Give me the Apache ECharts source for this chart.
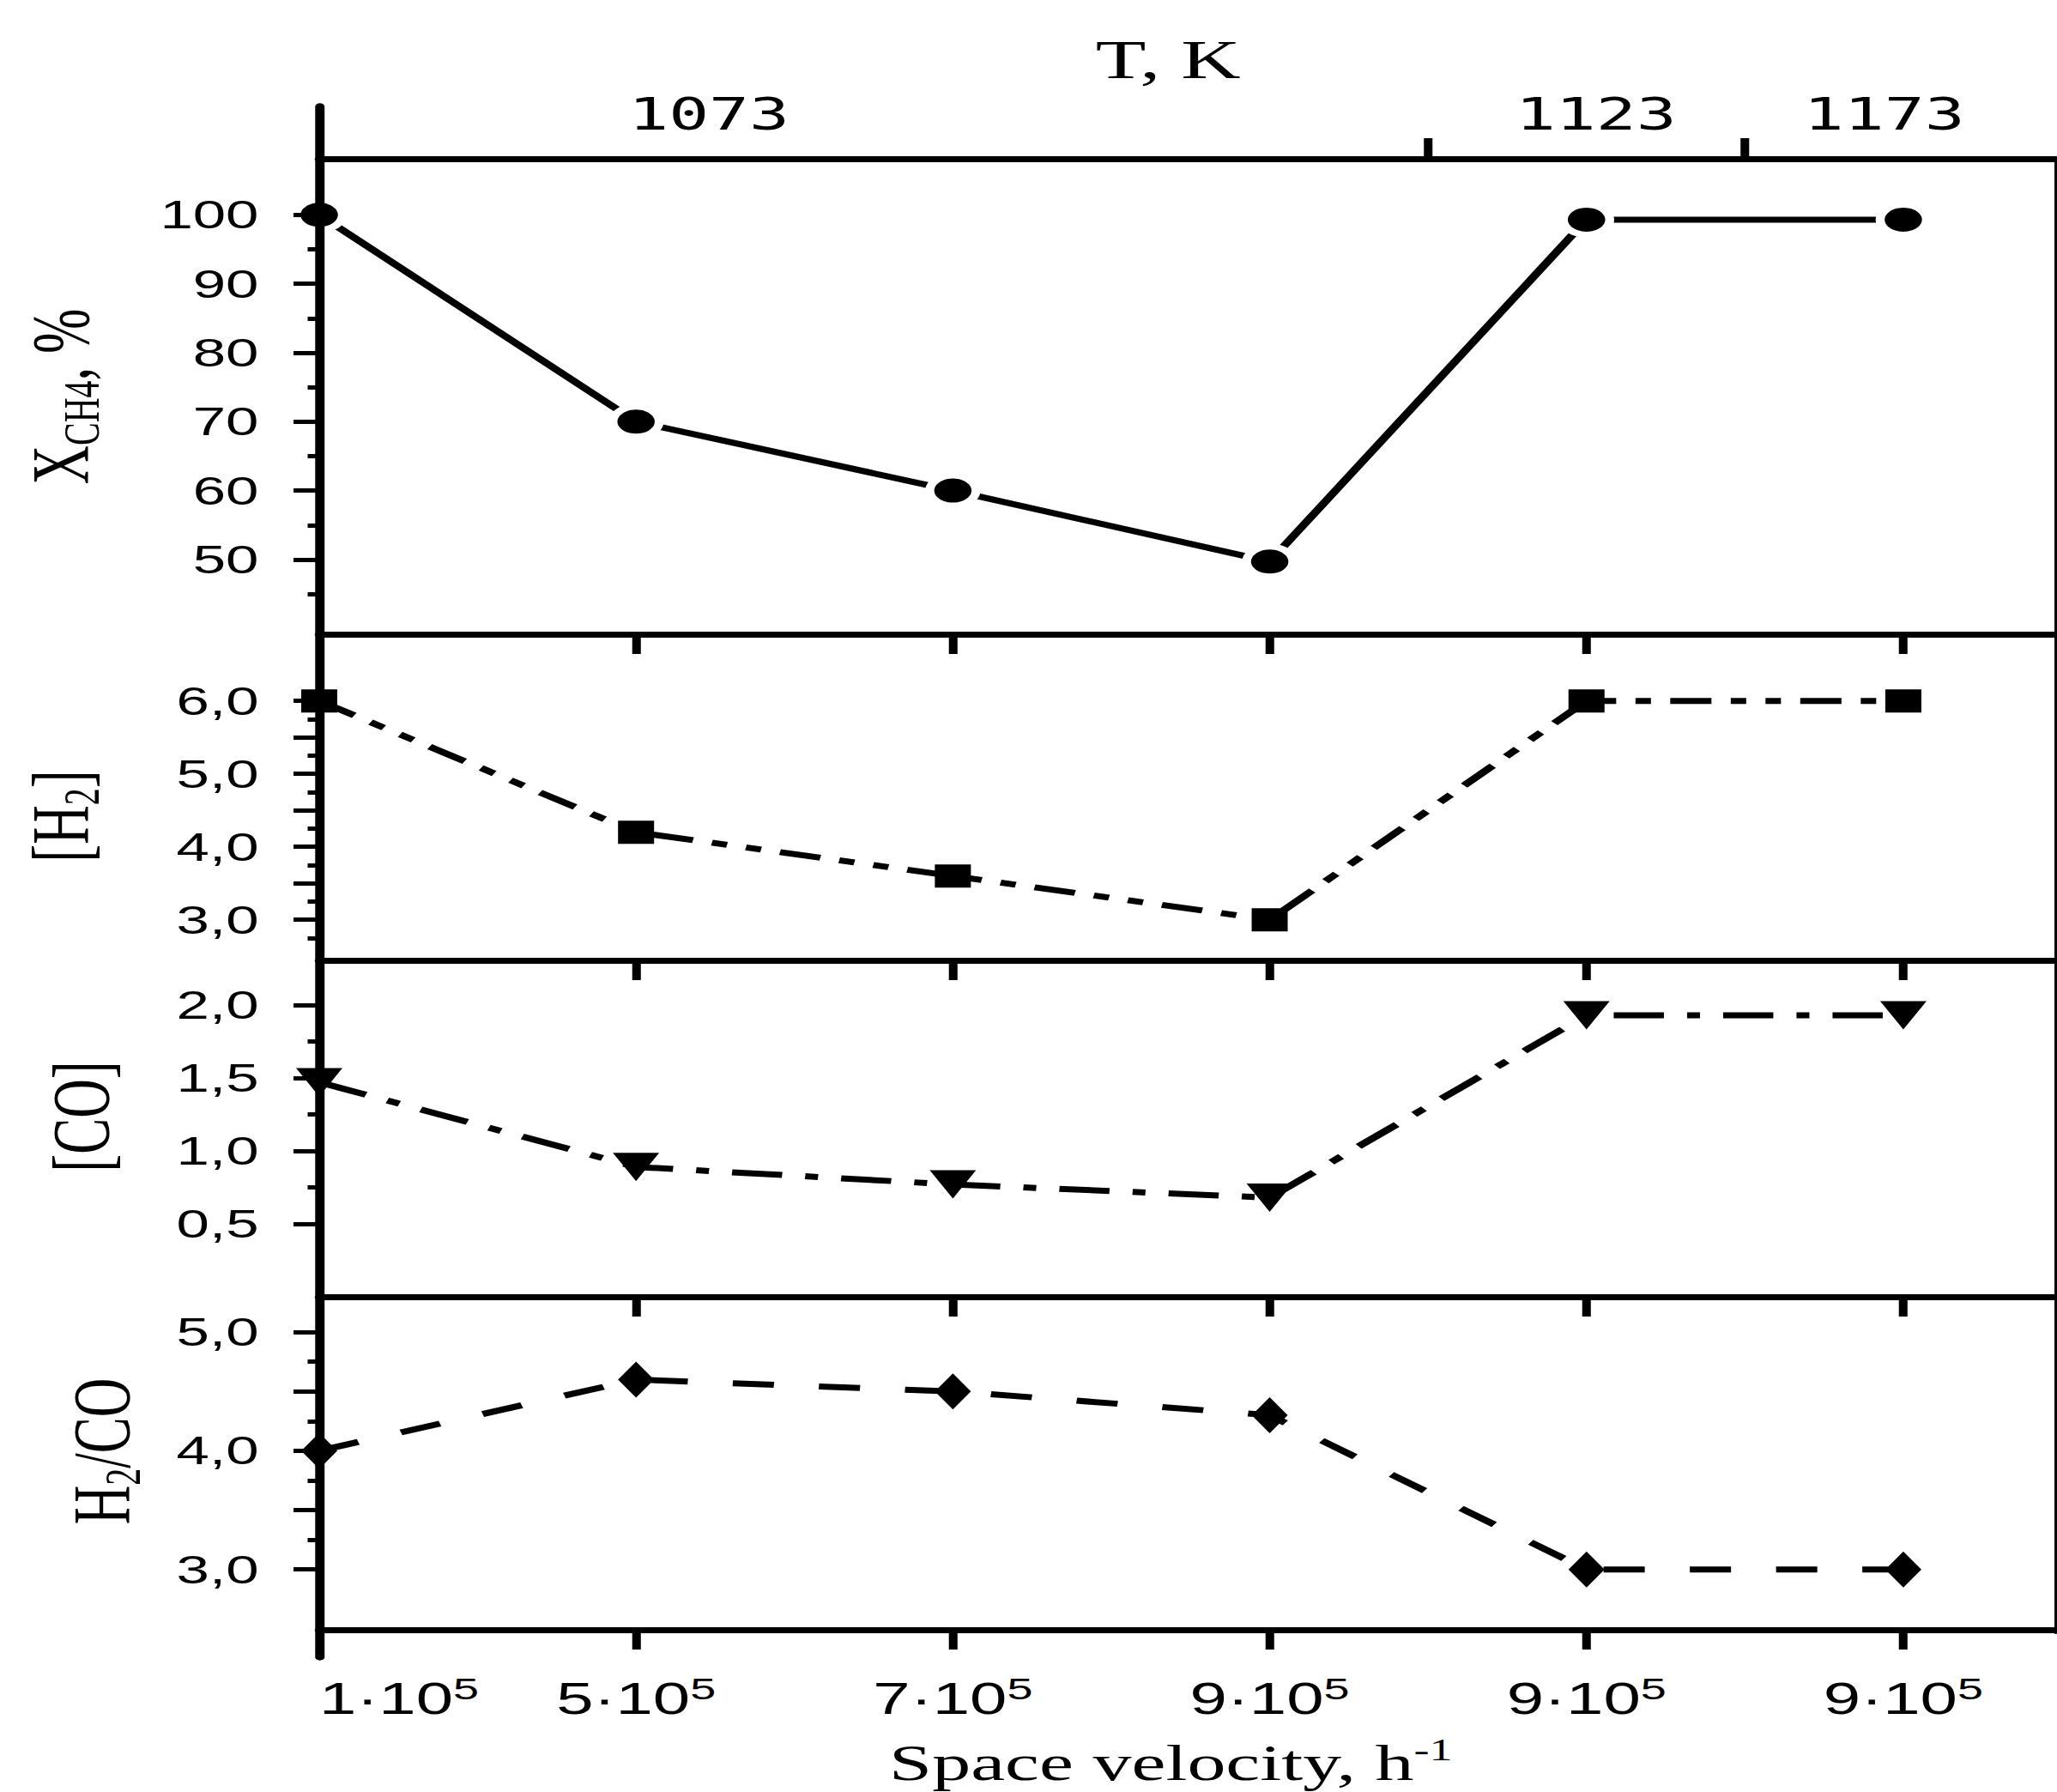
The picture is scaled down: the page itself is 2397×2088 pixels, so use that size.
<!DOCTYPE html>
<html><head><meta charset="utf-8">
<script src="https://cdn.jsdelivr.net/npm/echarts@6.0.0/dist/echarts.min.js"></script>
<style>
html,body{margin:0;padding:0;background:#fff;overflow:hidden;width:2397px;height:2088px;}
#wrap{position:absolute;left:0;top:0;width:1598px;height:2088px;transform:scaleX(1.5);transform-origin:0 0;}
#chart{width:1598px;height:2088px;}
</style></head><body>
<div id="wrap"><div id="chart"></div></div>
<script>
// ---------------- data ----------------
const velocityLabels = ['1·10^5', '5·10^5', '7·10^5', '9·10^5', '9·10^5', '9·10^5'];
const tempK = [1073, 1073, 1073, 1073, 1123, 1173];
const xch4 = [100, 70, 60, 49.7, 99.3, 99.3];
const h2 = [6.0, 4.2, 3.6, 3.0, 6.0, 6.0];
const co = [1.47, 0.89, 0.77, 0.68, 1.93, 1.93];
const h2co = [4.0, 4.6, 4.5, 4.3, 3.0, 3.0];

const xch4Ticks = [50, 60, 70, 80, 90, 100];
const xch4Minor = [45, 55, 65, 75, 85, 95];
const h2Ticks = [3, 4, 5, 6];
const h2Half = [3.5, 4.5, 5.5];
const h2Minor = [2.75, 3.25, 3.75, 4.25, 4.75, 5.25, 5.75];
const coTicks = [0.5, 1.0, 1.5, 2.0];
const coMinor = [0.75, 1.25, 1.75];
const h2coTicks = [3, 4, 5];
const h2coHalf = [3.5, 4.5];
const h2coMinor = [3.25, 3.75, 4.25, 4.75];

// ---------------- layout / style ----------------
const FONT_SANS = 'Liberation Sans';
const FONT_SERIF = 'Liberation Serif';
const FONT_MONO = 'DejaVu Sans Mono';
const GRID_LEFT = 248, GRID_RIGHT = 1, X_MAX = 5.481;
const T_LABEL_POS = [1.23, 4.03, 4.94];

const tempBounds = [];
const tempGroups = [];
tempK.forEach((t, i) => {
  if (i > 0 && t !== tempK[i - 1]) tempBounds.push(i - 0.5);
  if (!tempGroups.includes(String(t))) tempGroups.push(String(t));
});

const comma1 = v => v.toFixed(1).replace('.', ',');

const panels = [
  { top: 185, height: 554, yMin: 39.16, yMax: 108.13, values: xch4,
    major: xch4Ticks, labeled: xch4Ticks, minor: xch4Minor, fmt: v => String(v),
    name: 'X{sub|CH4}, %', nameGap: 165, namePad: [0, 0, 0, 0],
    symbol: 'circle', size: [29, 28], rot: 0, dash: 'solid', halo: [43, 42] },
  { top: 739, height: 380, yMin: 2.444, yMax: 6.914, values: h2,
    major: h2Ticks.concat(h2Half), labeled: h2Ticks, minor: h2Minor, fmt: comma1,
    name: '[H{sub|2}]', nameGap: 165, namePad: [0, 44, 0, 0],
    symbol: 'rect', size: [28, 27], rot: 0, dash: [32, 15, 12, 15, 12, 15], halo: null },
  { top: 1119, height: 392, yMin: 0, yMax: 2.306, values: co,
    major: coTicks, labeled: coTicks, minor: coMinor, fmt: comma1,
    name: '[CO]', nameGap: 149, namePad: [0, 0, 0, 28],
    symbol: 'triangle', size: [36, 33], rot: 180, dash: [39, 18, 10, 18], halo: null },
  { top: 1511, height: 392, yMin: 2.492, yMax: 5.297, values: h2co,
    major: h2coTicks.concat(h2coHalf), labeled: h2coTicks, minor: h2coMinor, fmt: comma1,
    name: 'H{sub|2}/CO', nameGap: 133, namePad: [0, 0, 0, 28],
    symbol: 'diamond', size: [28, 42], rot: 0, dash: [32, 35], halo: null }
];

const BLACK = '#000';
const grid = [], xAxis = [], yAxis = [], series = [];
const catIdx = velocityLabels.map((_, i) => i);

panels.forEach((p) => {
  grid.push({ left: GRID_LEFT, right: GRID_RIGHT, top: p.top, height: p.height });
});
// overlay grids for the long left axis line and the right frame line
grid.push({ left: GRID_LEFT, right: GRID_RIGHT, top: 124, height: 1807 });
grid.push({ left: GRID_LEFT, right: GRID_RIGHT, top: 185, height: 1718 });

// bottom x axes of each panel (0..3)
panels.forEach((p, i) => {
  const last = i === panels.length - 1;
  xAxis.push({
    type: 'value', gridIndex: i, position: 'bottom', min: 0, max: X_MAX, z: 5,
    axisLine: { show: true, onZero: false, lineStyle: { color: BLACK, width: 7 } },
    axisTick: { show: true, inside: false, length: 23, customValues: catIdx.slice(1),
                lineStyle: { color: BLACK, width: 6.7 } },
    splitLine: { show: false },
    axisLabel: last ? {
      show: true, customValues: catIdx, margin: 50, color: BLACK, alignMinLabel: 'left',
      formatter: v => {
        const s = velocityLabels[Math.round(v)].split('^');
        return '{b|' + s[0] + '}{sup|' + s[1] + '}';
      },
      rich: {
        b: { fontFamily: FONT_SANS, fontSize: 52, lineHeight: 60, color: BLACK },
        sup: { fontFamily: FONT_SANS, fontSize: 36, lineHeight: 36, verticalAlign: 'top', color: BLACK }
      }
    } : { show: false },
    name: last ? 'Space velocity, h{sup|-1}' : '',
    nameLocation: 'middle', nameGap: 122, nameMoveOverlap: false,
    nameTextStyle: {
      fontFamily: FONT_SERIF, fontSize: 60, lineHeight: 66, color: BLACK, padding: [0, 26, 0, 0],
      rich: { sup: { fontFamily: FONT_SERIF, fontSize: 36, lineHeight: 36, verticalAlign: 'top', color: BLACK } }
    }
  });
});
// top temperature axis (index 4)
xAxis.push({
  type: 'value', gridIndex: 0, position: 'top', min: 0, max: X_MAX, z: 5,
  axisLine: { show: true, onZero: false, lineStyle: { color: BLACK, width: 7 } },
  axisTick: { show: true, inside: false, length: 24, customValues: tempBounds,
              lineStyle: { color: BLACK, width: 6.7 } },
  splitLine: { show: false },
  axisLabel: {
    show: true, customValues: T_LABEL_POS, margin: 26, color: BLACK,
    fontFamily: FONT_MONO, fontSize: 52,
    formatter: v => tempGroups[T_LABEL_POS.indexOf(v)]
  },
  name: 'T, K', nameLocation: 'middle', nameGap: 84, nameMoveOverlap: false,
  nameTextStyle: { fontFamily: FONT_SERIF, fontSize: 64, color: BLACK, padding: [0, 30, 0, 0] }
});
// hidden x axes for overlay grids (5, 6)
xAxis.push({ type: 'value', gridIndex: 4, min: 0, max: 1, show: false });
xAxis.push({ type: 'value', gridIndex: 5, min: 0, max: 1, show: false });

// major y axes (0..3)
panels.forEach((p, i) => {
  yAxis.push({
    type: 'value', gridIndex: i, position: 'left', min: p.yMin, max: p.yMax, z: 5,
    axisLine: { show: false, onZero: false },
    axisTick: { show: true, inside: false, length: 20, customValues: p.major,
                lineStyle: { color: BLACK, width: 5 } },
    splitLine: { show: false },
    axisLabel: { show: true, customValues: p.labeled, margin: 47, color: BLACK,
                 fontFamily: FONT_SANS, fontSize: 46, formatter: p.fmt },
    name: p.name, nameLocation: 'middle', nameRotate: 90, nameGap: p.nameGap, nameMoveOverlap: false,
    nameTextStyle: {
      fontFamily: FONT_SERIF, fontSize: 63, lineHeight: 72, color: BLACK, padding: p.namePad,
      rich: { sub: { fontFamily: FONT_SERIF, fontSize: 40, lineHeight: 40, verticalAlign: 'bottom', color: BLACK } }
    }
  });
});
// minor y axes (4..7)
panels.forEach((p, i) => {
  yAxis.push({
    type: 'value', gridIndex: i, position: 'left', offset: 0, min: p.yMin, max: p.yMax, z: 5,
    axisLine: { show: false, onZero: false },
    axisTick: { show: true, inside: false, length: 9, customValues: p.minor,
                lineStyle: { color: BLACK, width: 5 } },
    splitLine: { show: false },
    axisLabel: { show: false }
  });
});
// long left axis line (8) and right frame (9)
yAxis.push({
  type: 'value', gridIndex: 4, position: 'left', min: 0, max: 1, z: 6,
  axisLine: { show: true, onZero: false, lineStyle: { color: BLACK, width: 7.3 } },
  axisTick: { show: false }, axisLabel: { show: false }, splitLine: { show: false }
});
yAxis.push({
  type: 'value', gridIndex: 5, position: 'right', min: 0, max: 1, z: 6,
  axisLine: { show: true, onZero: false, lineStyle: { color: BLACK, width: 2 } },
  axisTick: { show: false }, axisLabel: { show: false }, splitLine: { show: false }
});

// series
panels.forEach((p, i) => {
  const pts = p.values.map((v, k) => [catIdx[k], v]);
  series.push({
    type: 'line', xAxisIndex: i, yAxisIndex: i, data: pts, z: 2, clip: false,
    showSymbol: false, symbol: 'none', silent: true,
    lineStyle: { color: BLACK, width: 7, type: p.dash, cap: 'butt', opacity: 1 }
  });
  if (p.halo) {
    series.push({
      type: 'scatter', xAxisIndex: i, yAxisIndex: i, data: pts, z: 3, clip: false, silent: true,
      symbol: p.symbol, symbolSize: p.halo, itemStyle: { color: '#fff', opacity: 1 }
    });
  }
  series.push({
    type: 'scatter', xAxisIndex: i, yAxisIndex: i, data: pts, z: 4, clip: false, silent: true,
    symbol: p.symbol, symbolSize: p.size, symbolRotate: p.rot,
    itemStyle: { color: BLACK, opacity: 1, borderWidth: 0 }
  });
});

const chart = echarts.init(document.getElementById('chart'), null, { renderer: 'svg' });
chart.setOption({
  backgroundColor: '#fff',
  animation: false,
  grid: grid, xAxis: xAxis, yAxis: yAxis, series: series
});
</script>
</body></html>
